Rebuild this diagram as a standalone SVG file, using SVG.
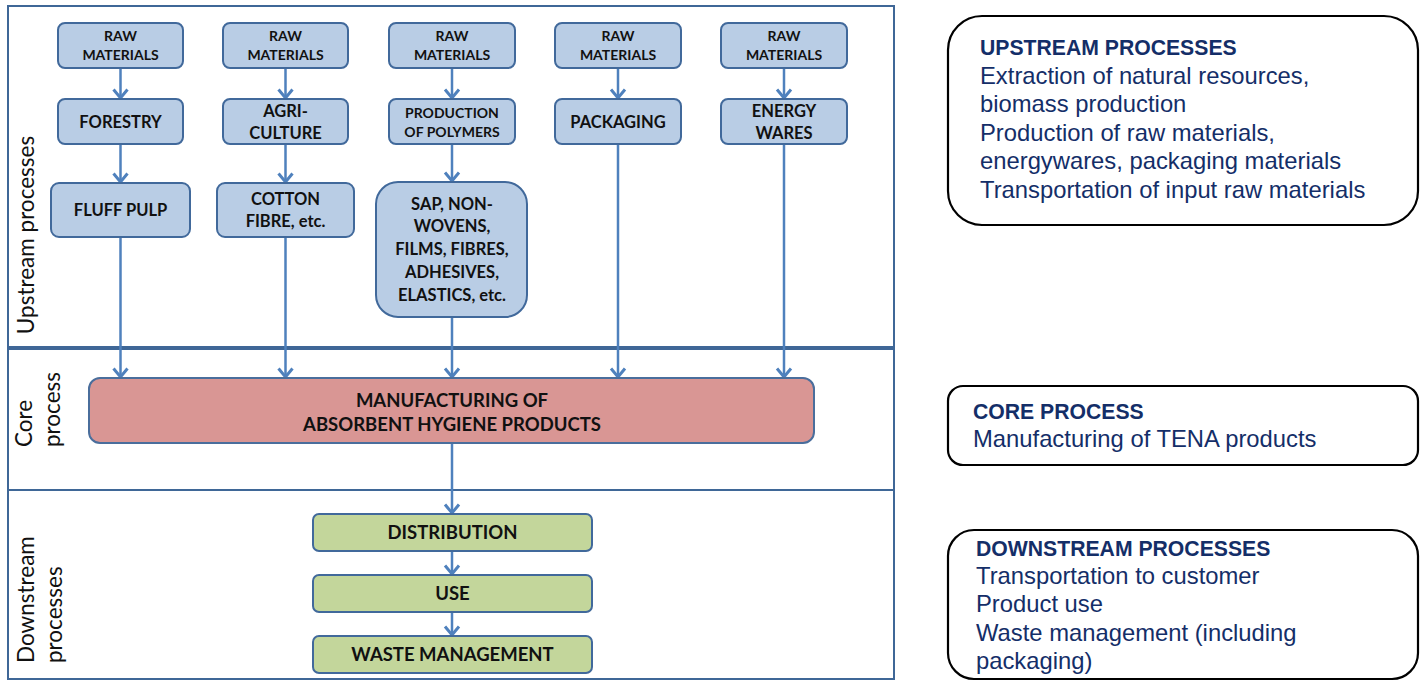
<svg xmlns="http://www.w3.org/2000/svg" width="1424" height="681" viewBox="0 0 1424 681">
<style>
.frame{fill:none;stroke:#3f6797;stroke-width:2}
.bx{fill:#b9cde5;stroke:#41699b;stroke-width:2}
.core{fill:#d99694;stroke:#4a6e9c;stroke-width:2}
.grn{fill:#c3d69b;stroke:#41699b;stroke-width:2}
.t{font-family:Lato,"Liberation Sans",sans-serif;font-weight:bold;fill:#111;text-anchor:middle}
.s15{font-size:14px}
.s18{font-size:16.5px}
.s20{font-size:18.5px}
.side{font-family:Lato,"Liberation Sans",sans-serif;font-size:22.5px;fill:#111}
.rb{fill:#fff;stroke:#000;stroke-width:2.2}
.rt{font-family:"Liberation Sans",Arial,sans-serif;font-size:23.8px;fill:#142e68}
.rh{font-family:"Liberation Sans",Arial,sans-serif;font-size:21.2px;font-weight:bold;fill:#142e68}
.ar{fill:none;stroke:#4f81bd;stroke-width:2.5;marker-end:url(#arr)}
</style>
<defs>
<marker id="arr" viewBox="-10 -10 20 20" refX="0" refY="0" markerWidth="20" markerHeight="20" markerUnits="userSpaceOnUse" orient="auto">
<path d="M-8.5,-7 L0,0 L-8.5,7" fill="none" stroke="#4f81bd" stroke-width="3" stroke-linejoin="miter"/>
</marker>
</defs>
<rect width="1424" height="681" fill="#fff"/>
<g id="frame">
<rect class="frame" x="8" y="6" width="886" height="673"/>
<line x1="8" y1="348" x2="894" y2="348" stroke="#3f6797" stroke-width="4"/>
<line x1="8" y1="490" x2="894" y2="490" stroke="#3f6797" stroke-width="2"/>
<text class="side" transform="translate(34,235) rotate(-90)" text-anchor="middle">Upstream processes</text>
<text class="side" transform="translate(32,447) rotate(-90)">Core</text>
<text class="side" transform="translate(60,447) rotate(-90)">process</text>
<text class="side" transform="translate(34,663) rotate(-90)">Downstream</text>
<text class="side" transform="translate(62,663) rotate(-90)">processes</text>
</g>
<g id="connectors">
<line class="ar" x1="120.5" y1="68" x2="120.5" y2="98"/>
<line class="ar" x1="120.5" y1="144" x2="120.5" y2="182"/>
<line class="ar" x1="120.5" y1="237" x2="120.5" y2="377"/>
<line class="ar" x1="285.5" y1="68" x2="285.5" y2="98"/>
<line class="ar" x1="285.5" y1="144" x2="285.5" y2="182"/>
<line class="ar" x1="285.5" y1="237" x2="285.5" y2="377"/>
<line class="ar" x1="452" y1="68" x2="452" y2="98"/>
<line class="ar" x1="452" y1="144" x2="452" y2="181"/>
<line class="ar" x1="452" y1="317" x2="452" y2="377"/>
<line class="ar" x1="618" y1="68" x2="618" y2="98"/>
<line class="ar" x1="618" y1="144" x2="618" y2="377"/>
<line class="ar" x1="784" y1="68" x2="784" y2="98"/>
<line class="ar" x1="784" y1="144" x2="784" y2="377"/>
<line class="ar" x1="452" y1="443" x2="452" y2="513"/>
<line class="ar" x1="452" y1="551" x2="452" y2="574"/>
<line class="ar" x1="452" y1="612" x2="452" y2="635"/>
</g>
<g id="raw1"><rect class="bx" x="58" y="23" width="125" height="45" rx="7"/><text class="t s15" x="120.5" y="41">RAW</text><text class="t s15" x="120.5" y="60">MATERIALS</text></g>
<g id="raw2"><rect class="bx" x="223" y="23" width="125" height="45" rx="7"/><text class="t s15" x="285.5" y="41">RAW</text><text class="t s15" x="285.5" y="60">MATERIALS</text></g>
<g id="raw3"><rect class="bx" x="389" y="23" width="126" height="45" rx="7"/><text class="t s15" x="452" y="41">RAW</text><text class="t s15" x="452" y="60">MATERIALS</text></g>
<g id="raw4"><rect class="bx" x="555" y="23" width="126" height="45" rx="7"/><text class="t s15" x="618" y="41">RAW</text><text class="t s15" x="618" y="60">MATERIALS</text></g>
<g id="raw5"><rect class="bx" x="721" y="23" width="126" height="45" rx="7"/><text class="t s15" x="784" y="41">RAW</text><text class="t s15" x="784" y="60">MATERIALS</text></g>
<g id="forestry"><rect class="bx" x="58" y="99" width="125" height="45" rx="7"/><text class="t s18" x="120.5" y="128">FORESTRY</text></g>
<g id="agriculture"><rect class="bx" x="223" y="99" width="125" height="45" rx="7"/><text class="t s18" x="285.5" y="117">AGRI-</text><text class="t s18" x="285.5" y="139">CULTURE</text></g>
<g id="polymers"><rect class="bx" x="389" y="99" width="126" height="45" rx="7"/><text class="t s15" x="452" y="118">PRODUCTION</text><text class="t s15" x="452" y="137">OF POLYMERS</text></g>
<g id="packaging"><rect class="bx" x="555" y="99" width="126" height="45" rx="7"/><text class="t s18" x="618" y="128">PACKAGING</text></g>
<g id="energy"><rect class="bx" x="721" y="99" width="126" height="45" rx="7"/><text class="t s18" x="784" y="117">ENERGY</text><text class="t s18" x="784" y="139">WARES</text></g>
<g id="fluff"><rect class="bx" x="51" y="183" width="139" height="54" rx="8"/><text class="t s18" x="120.5" y="216">FLUFF PULP</text></g>
<g id="cotton"><rect class="bx" x="217" y="183" width="137" height="54" rx="8"/><text class="t s18" x="285.5" y="205">COTTON</text><text class="t s18" x="285.5" y="227">FIBRE, etc.</text></g>
<g id="sap"><rect class="bx" x="376" y="182" width="151" height="135" rx="22"/><text class="t s18" x="452" y="210">SAP, NON-</text><text class="t s18" x="452" y="232">WOVENS,</text><text class="t s18" x="452" y="255">FILMS, FIBRES,</text><text class="t s18" x="452" y="278">ADHESIVES,</text><text class="t s18" x="452" y="301">ELASTICS, etc.</text></g>
<g id="manufacturing"><rect class="core" x="89" y="378" width="725" height="65" rx="11"/><text class="t s20" x="452" y="407">MANUFACTURING OF</text><text class="t s20" x="452" y="431">ABSORBENT HYGIENE PRODUCTS</text></g>
<g id="distribution"><rect class="grn" x="313" y="514" width="279" height="37" rx="6"/><text class="t s20" x="452.5" y="539">DISTRIBUTION</text></g>
<g id="use"><rect class="grn" x="313" y="575" width="279" height="37" rx="6"/><text class="t s20" x="452.5" y="600">USE</text></g>
<g id="waste"><rect class="grn" x="313" y="636" width="279" height="37" rx="6"/><text class="t s20" x="452.5" y="661">WASTE MANAGEMENT</text></g>
<g id="legend-upstream"><rect class="rb" x="948" y="16" width="470" height="209" rx="34"/>
<text class="rh" x="980" y="55">UPSTREAM PROCESSES</text>
<text class="rt" x="980" y="84">Extraction of natural resources,</text>
<text class="rt" x="980" y="112">biomass production</text>
<text class="rt" x="980" y="141">Production of raw materials,</text>
<text class="rt" x="980" y="169">energywares, packaging materials</text>
<text class="rt" x="980" y="198">Transportation of input raw materials</text></g>
<g id="legend-core"><rect class="rb" x="948" y="386" width="470" height="79" rx="15"/>
<text class="rh" x="973" y="419">CORE PROCESS</text>
<text class="rt" x="973" y="447">Manufacturing of TENA products</text></g>
<g id="legend-downstream"><rect class="rb" x="948" y="530" width="470" height="149" rx="26"/>
<text class="rh" x="976" y="556">DOWNSTREAM PROCESSES</text>
<text class="rt" x="976" y="584">Transportation to customer</text>
<text class="rt" x="976" y="612">Product use</text>
<text class="rt" x="976" y="641">Waste management (including</text>
<text class="rt" x="976" y="669">packaging)</text></g>
</svg>
